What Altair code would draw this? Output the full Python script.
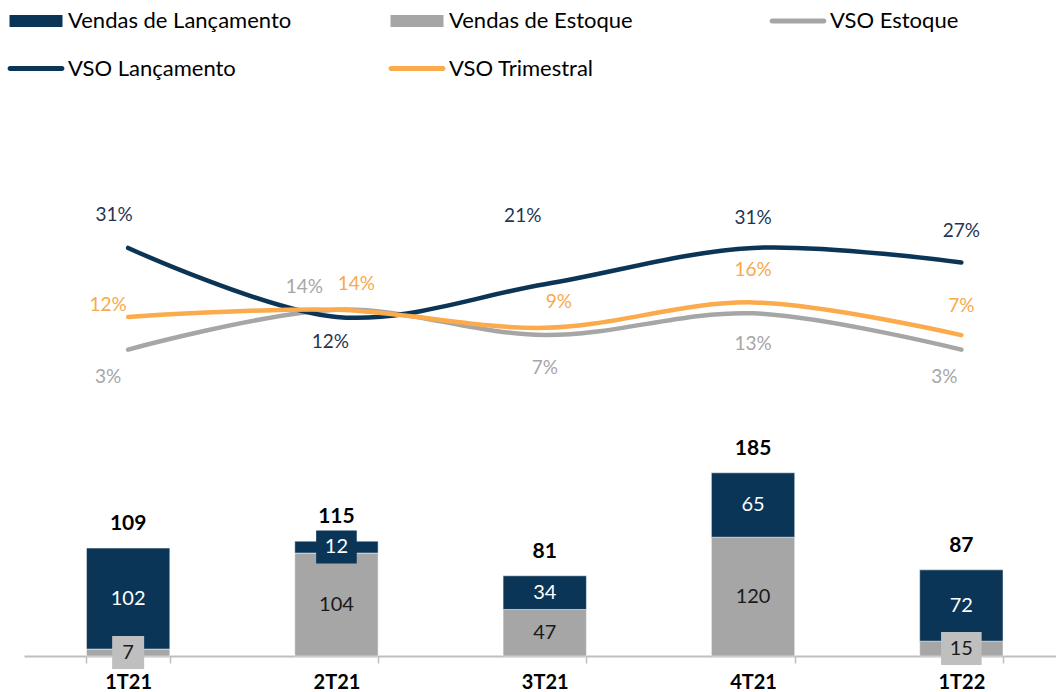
import altair as alt
import pandas as pd

# ---------------- data ----------------
quarters = ["1T21", "2T21", "3T21", "4T21", "1T22"]
vendas_lancamento = [102, 12, 34, 65, 72]
vendas_estoque = [7, 104, 47, 120, 15]
totais = [109, 115, 81, 185, 87]
vso_estoque = [3, 14, 7, 13, 3]
vso_lancamento = [31, 12, 21, 31, 27]
vso_trimestral = [12, 14, 9, 16, 7]

S_VL = "Vendas de Lançamento"
S_VE = "Vendas de Estoque"
S_SE = "VSO Estoque"
S_SL = "VSO Lançamento"
S_ST = "VSO Trimestral"

# ---------------- styles ----------------
series_order = [S_VL, S_VE, S_SE, S_SL, S_ST]
series_colors = ["#0b3556", "#a6a6a6", "#a6a6a6", "#0b3556", "#fbaa4c"]
label_colors = {S_SL: "#1f3553", S_SE: "#a6a6a6", S_ST: "#f9a94b"}
# manual label nudges in px (dx, dy), like hand-placed labels
nudges = {
    S_SL: [(-14, -33), (-6, 25), (-22, -68), (0, -30), (0, -31)],
    S_SE: [(-20, 27), (-32, -23), (0, 33), (0, 31), (-17, 27)],
    S_ST: [(-20, -12), (20, -26), (14, -26), (0, -32), (0, -29)],
}
FONT = "Lato"
RECT_PATH = "M-2.65,-0.6H2.65V0.6H-2.65Z"
LINE_PATH = "M-2.6,-0.24L2.6,-0.24A0.24,0.24,0,0,1,2.6,0.24L-2.6,0.24A0.24,0.24,0,0,1,-2.6,-0.24Z"

# ---------------- tables ----------------
bar_rows = []
for i, q in enumerate(quarters):
    e = vendas_estoque[i]
    l = vendas_lancamento[i]
    bar_rows.append(dict(quarter=q, series=S_VE, value=e, start=0, end=e,
                         mid=e / 2, tcolor="#1a1a1a", bfill="#bfbfbf"))
    bar_rows.append(dict(quarter=q, series=S_VL, value=l, start=e, end=e + l,
                         mid=e + l / 2, tcolor="#ffffff", bfill="#0b3556"))
bars_df = pd.DataFrame(bar_rows)

tot_df = pd.DataFrame({
    "quarter": quarters,
    "total": totais,
    "top": [a + b for a, b in zip(vendas_estoque, vendas_lancamento)],
})

line_rows = []
for s, vals in [(S_SE, vso_estoque), (S_SL, vso_lancamento), (S_ST, vso_trimestral)]:
    for i, q in enumerate(quarters):
        dx, dy = nudges[s][i]
        line_rows.append(dict(quarter=q, series=s, vso=vals[i],
                              label=f"{vals[i]}%", dx=dx, dy=dy,
                              lcolor=label_colors[s]))
lines_df = pd.DataFrame(line_rows)

# ---------------- scales ----------------
x_scale = alt.Scale(domain=quarters, range=[0, 1041.5],
                    paddingInner=0.6, paddingOuter=0.3)
bar_y = alt.Scale(domain=[0, 662.6], nice=False, zero=False)
line_y = alt.Scale(domain=[-81.4, 99.3], nice=False, zero=False)
color_scale = alt.Scale(domain=series_order, range=series_colors)

x_axis = alt.Axis(title=None, labelFont=FONT, labelFontSize=20,
                  labelFontWeight="bold", labelColor="#000000",
                  labelAngle=0, labelPadding=9,
                  domainColor="#bfbfbf", domainWidth=2,
                  tickColor="#bfbfbf", tickWidth=1.5, tickSize=7,
                  tickBand="extent", grid=False)

legend = alt.Legend(
    title=None, orient="none", legendX=-16, legendY=10,
    direction="horizontal",
    columns=3, gridAlign="all", columnPadding=96, rowPadding=25.5,
    labelFont=FONT, labelFontSize=22, labelColor="#000000", labelLimit=500,
    symbolSize=400, symbolOffset=17, labelOffset=21, symbolStrokeWidth=0,
    symbolOpacity=1, padding=0,
    symbolType=alt.ExprRef(
        f"indexof(datum.value, 'Vendas') == 0 ? '{RECT_PATH}' : '{LINE_PATH}'"),
)

X = lambda: alt.X("quarter:N", sort=quarters, scale=x_scale, axis=x_axis)

# ---------------- layers ----------------
bars = alt.Chart(bars_df).mark_bar(stroke="#ffffff", strokeWidth=0.8, strokeOpacity=0.6).encode(
    x=X(),
    y=alt.Y("start:Q", scale=bar_y, axis=None),
    y2="end:Q",
    color=alt.Color("series:N", scale=color_scale, legend=legend),
)

small = bars_df[bars_df["value"] < 20]
boxes = alt.Chart(small).mark_point(
    filled=True, size=1089, opacity=1, strokeWidth=0,
    shape={"expr": "datum.value < 10 ? 'M-0.97,-1H0.97V1H-0.97Z' : 'M-1.23,-1H1.23V1H-1.23Z'"},
).encode(
    x=X(),
    y=alt.Y("mid:Q", scale=bar_y, axis=None),
    fill=alt.Fill("bfill:N", scale=None),
)

bar_text = alt.Chart(bars_df).mark_text(
    font=FONT, fontSize=20, baseline="middle", align="center",
).encode(
    x=X(),
    y=alt.Y("mid:Q", scale=bar_y, axis=None),
    text="value:Q",
    fill=alt.Fill("tcolor:N", scale=None),
)

tot_text = alt.Chart(tot_df).mark_text(
    font=FONT, fontSize=21, fontWeight="bold", baseline="middle",
    align="center", dy=-24, color="#000000",
).encode(
    x=X(),
    y=alt.Y("top:Q", scale=bar_y, axis=None),
    text="total:Q",
)

def line_layer(s):
    return alt.Chart(lines_df[lines_df["series"] == s]).mark_line(
        interpolate="cardinal", strokeWidth=4.5, strokeCap="round",
    ).encode(
        x=X(),
        y=alt.Y("vso:Q", scale=line_y, axis=None),
        color=alt.Color("series:N", scale=color_scale, legend=None),
    )

line_labels = alt.Chart(lines_df).mark_text(
    font=FONT, fontSize=19, baseline="middle", align="center",
    dx={"expr": "datum.dx"}, dy={"expr": "datum.dy"},
).encode(
    x=X(),
    y=alt.Y("vso:Q", scale=line_y, axis=None),
    text="label:N",
    fill=alt.Fill("lcolor:N", scale=None),
)

chart = alt.layer(
    bars, boxes, bar_text, tot_text,
    line_layer(S_SE), line_layer(S_SL), line_layer(S_ST),
    line_labels,
).resolve_scale(y="independent").properties(
    width=1032, height=656,
    autosize=alt.AutoSizeParams(type="none"),
    padding={"left": 24, "top": 0, "right": 0, "bottom": 36},
    background="#ffffff",
).configure_view(stroke=None)

chart.save("out.html", embed_options={"renderer": "svg", "actions": False})
